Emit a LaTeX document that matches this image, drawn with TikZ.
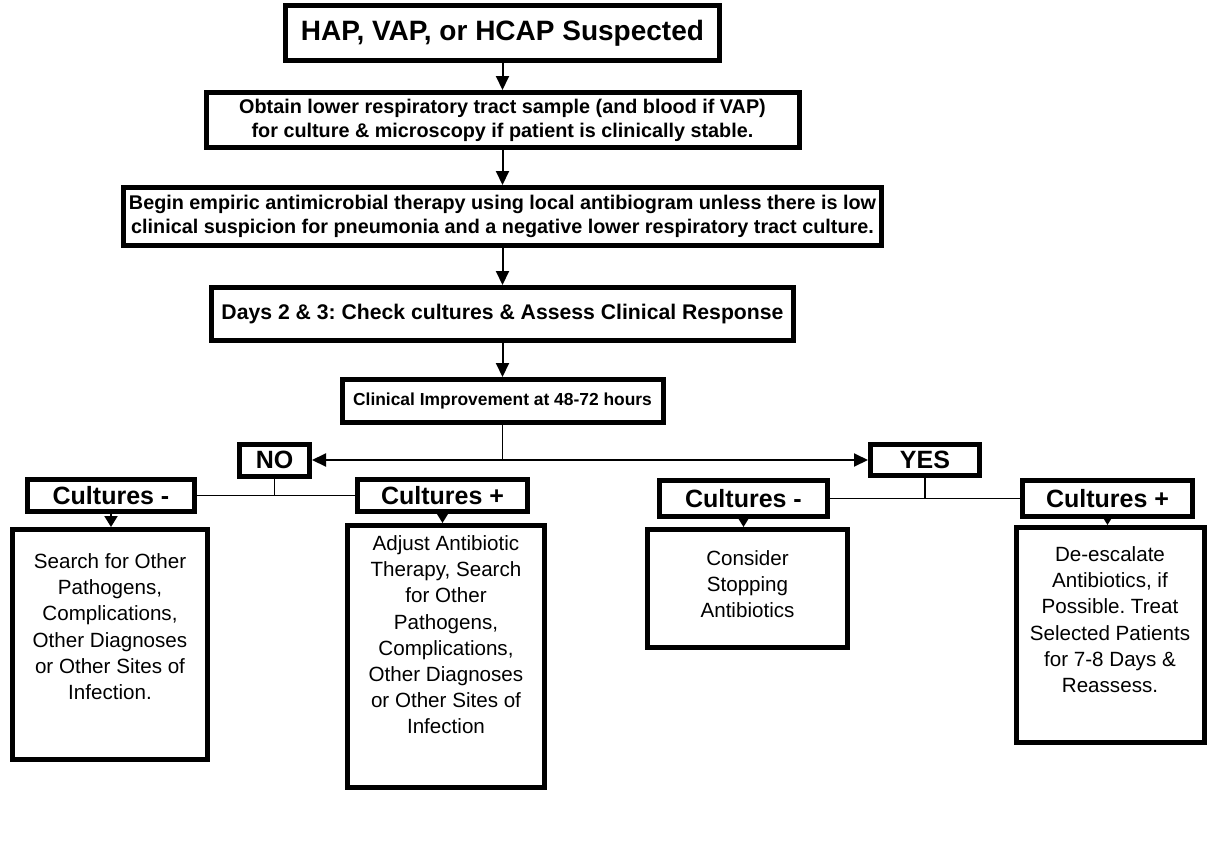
\documentclass[tikz,border=0pt]{standalone}
\usepackage{fontspec}
\setmainfont{Liberation Sans}
\usetikzlibrary{arrows.meta}
\frenchspacing

\tikzset{
  stepbox/.style={draw, line width=2.5pt, align=center, inner sep=0pt,
    font=\bfseries\fontsize{9.9}{12}\selectfont},
  casebox/.style={stepbox, font=\bfseries\fontsize{12.5}{14}\selectfont},
  botbox/.style={draw, line width=2.5pt, anchor=north, inner xsep=1pt, inner ysep=5pt,
    font=\fontsize{10.3}{13.1}\selectfont},
  arr/.style={line width=1pt, -{Triangle[width=6.5pt,length=7pt]}},
  shortarr/.style={line width=1pt, -{Triangle[width=6.5pt,length=5.5pt]}},
  branch/.style={line width=0.7pt},
}
\newcommand{\toptext}[3]{\parbox[t][#1][t]{92pt}{\centering\vspace*{#2}#3}}

\begin{document}
\begin{tikzpicture}[x=0.5pt,y=-0.5pt]
\useasboundingbox (0,0) rectangle (1207,852);
% main column
\node[stepbox, anchor=north, minimum width=217pt, minimum height=27.5pt,
  font=\bfseries\fontsize{14}{16}\selectfont] (susp) at (502.5,3) {HAP, VAP, or HCAP Suspected};
\node[stepbox, anchor=north, minimum width=296.5pt, minimum height=27.5pt] (sample) at (502.5,90)
  {Obtain lower respiratory tract sample (and blood if VAP)\\for culture \& microscopy if patient is clinically stable.};
\node[stepbox, anchor=north, minimum width=379pt, minimum height=29pt] (empiric) at (502.5,185)
  {Begin empiric antimicrobial therapy using local antibiogram unless there is low\\clinical suspicion for pneumonia and a negative lower respiratory tract culture.};
\node[stepbox, anchor=north, minimum width=291pt, minimum height=26.5pt,
  font=\bfseries\fontsize{10.6}{12}\selectfont] (days) at (502.5,285) {Days 2 \& 3: Check cultures \& Assess Clinical Response};
\node[stepbox, anchor=north, minimum width=160.5pt, minimum height=21.5pt,
  font=\bfseries\fontsize{8.7}{10}\selectfont] (clin) at (502.5,377) {Clinical Improvement at 48-72 hours};

\coordinate (spine) at (502.5,0);
\draw[arr] (susp.south -| spine) -- (sample.north -| spine);
\draw[arr] (sample.south -| spine) -- (empiric.north -| spine);
\draw[arr] (empiric.south -| spine) -- (days.north -| spine);
\draw[arr] (days.south -| spine) -- (clin.north -| spine);

% no / yes
\node[casebox, minimum width=35pt, minimum height=16pt] (no) at (274.5,460) {NO};
\node[casebox, minimum width=54.5pt, minimum height=15.5pt] (yes) at (925,460) {YES};
\coordinate (split) at (502.5,460);
\draw[branch] (clin.south -| split) -- (split);
\draw[arr] (split) -- (no.east);
\draw[arr] (split) -- (yes.west);

% cultures
\node[casebox, minimum width=83.5pt, minimum height=16pt] (negL) at (111,495.5) {Cultures -};
\node[casebox, minimum width=85pt, minimum height=16pt] (posL) at (442.5,495.5) {Cultures +};
\node[casebox, minimum width=84pt, minimum height=18pt] (negR) at (743.5,498.5) {Cultures -};
\node[casebox, minimum width=85pt, minimum height=18pt] (posR) at (1107.5,498.5) {Cultures +};
\draw[branch] (negL.east) -- (posL.west);
\draw[branch] (no.south) -- (no.south |- negL.east);
\draw[branch] (negR.east) -- (posR.west);
\draw[branch] (yes.south) -- (yes.south |- negR.east);

% results
\node[botbox, minimum width=97.5pt] (resNL) at (110,527)
  {\toptext{105pt}{7pt}{Search for Other\\Pathogens,\\Complications,\\Other Diagnoses\\or Other Sites of\\Infection.}};
\node[botbox, minimum width=98.5pt] (resPL) at (446,523)
  {\toptext{121pt}{0pt}{Adjust Antibiotic\\Therapy, Search\\for Other\\Pathogens,\\Complications,\\Other Diagnoses\\or Other Sites of\\Infection}};
\node[botbox, minimum width=100pt] (resNR) at (747.5,527)
  {\toptext{49pt}{5.5pt}{Consider\\Stopping\\Antibiotics}};
\node[botbox, minimum width=92.5pt] (resPR) at (1110,525)
  {\toptext{97.5pt}{4.5pt}{De-escalate\\Antibiotics, if\\Possible. Treat\\Selected Patients\\for 7-8 Days \&\\Reassess.}};
\draw[shortarr] (negL.south) -- (negL.south |- resNL.north);
\draw[shortarr] (posL.south) -- (posL.south |- resPL.north);
\draw[shortarr] (negR.south) -- (negR.south |- resNR.north);
\draw[shortarr] (posR.south) -- (posR.south |- resPR.north);
\end{tikzpicture}
\end{document}
